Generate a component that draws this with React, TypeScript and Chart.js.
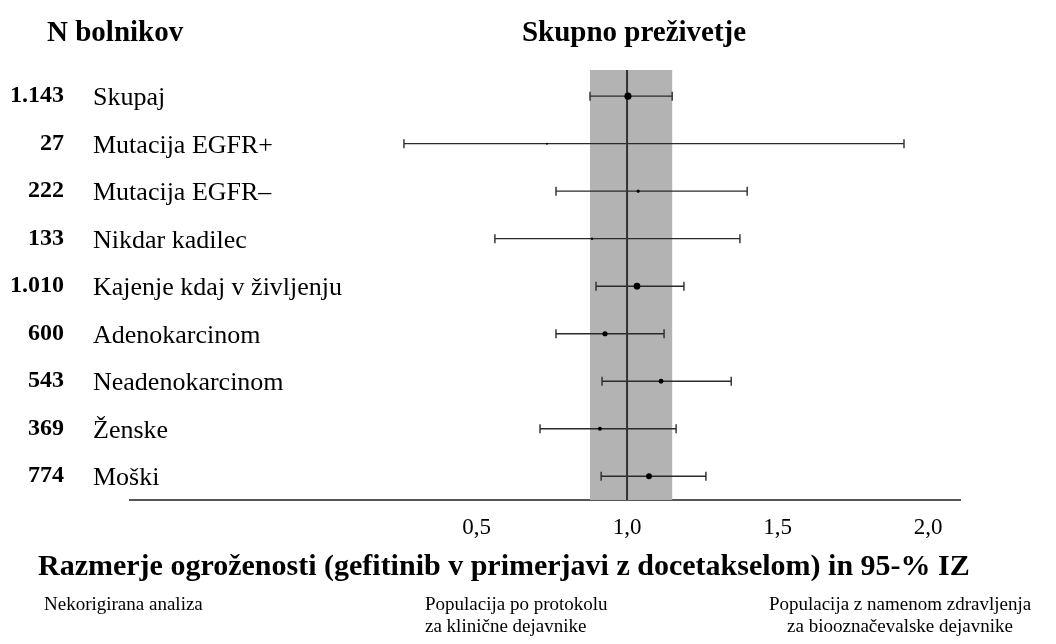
import React, { useEffect, useRef } from "react";
import { Chart, registerables } from "chart.js";

Chart.register(...registerables);

const categories = [
  "Skupaj",
  "Mutacija EGFR+",
  "Mutacija EGFR–",
  "Nikdar kadilec",
  "Kajenje kdaj v življenju",
  "Adenokarcinom",
  "Neadenokarcinom",
  "Ženske",
  "Moški",
];
const patientLabels = ["1.143", "27", "222", "133", "1.010", "600", "543", "369", "774"];
const patientCounts = [1143, 27, 222, 133, 1010, 600, 543, 369, 774];
const hazardRatio = [1.003, 0.734, 1.037, 0.884, 1.033, 0.927, 1.113, 0.91, 1.073];
const ciLower = [0.877, 0.259, 0.764, 0.561, 0.897, 0.764, 0.917, 0.711, 0.914];
const ciUpper = [1.15, 1.92, 1.399, 1.375, 1.189, 1.123, 1.346, 1.163, 1.262];
const tickValues = [0.5, 1.0, 1.5, 2.0];
const tickLabels = ["0,5", "1,0", "1,5", "2,0"];

const headerLeft = "N bolnikov";
const headerCenter = "Skupno preživetje";
const axisTitle = "Razmerje ogroženosti (gefitinib v primerjavi z docetakselom) in 95-% IZ";
const footNotes = [
  ["Nekorigirana analiza"],
  ["Populacija po protokolu", "za klinične dejavnike"],
  ["Populacija z namenom zdravljenja", "za biooznačevalske dejavnike"],
];

const SERIF = "'Liberation Serif', 'DejaVu Serif', serif";

const forestPlugin = {
  id: "forest",
  beforeDatasetsDraw(chart: any) {
    const { ctx, chartArea, scales } = chart;
    const x = scales.x;
    const y = scales.y;
    ctx.save();
    // overall CI band
    const bx0 = x.getPixelForValue(ciLower[0]);
    const bx1 = x.getPixelForValue(ciUpper[0]);
    ctx.fillStyle = "#b3b3b3";
    ctx.fillRect(bx0, chartArea.top, bx1 - bx0, chartArea.bottom - chartArea.top);
    // whiskers
    ctx.strokeStyle = "#2b2b2b";
    ctx.lineWidth = 1.4;
    for (let i = 0; i < categories.length; i++) {
      const py = y.getPixelForValue(i);
      const l = x.getPixelForValue(ciLower[i]);
      const r = x.getPixelForValue(ciUpper[i]);
      ctx.beginPath();
      ctx.moveTo(l, py);
      ctx.lineTo(r, py);
      ctx.moveTo(l, py - 4.5);
      ctx.lineTo(l, py + 4.5);
      ctx.moveTo(r, py - 4.5);
      ctx.lineTo(r, py + 4.5);
      ctx.stroke();
    }
    // reference line at 1
    const rx = x.getPixelForValue(1);
    ctx.strokeStyle = "#333333";
    ctx.lineWidth = 2;
    ctx.beginPath();
    ctx.moveTo(rx, chartArea.top);
    ctx.lineTo(rx, chartArea.bottom);
    ctx.stroke();
    ctx.restore();
  },
  afterDraw(chart: any) {
    const { ctx, scales } = chart;
    const y = scales.y;
    ctx.save();
    ctx.fillStyle = "#000";
    ctx.textBaseline = "alphabetic";
    ctx.font = `bold 29px ${SERIF}`;
    ctx.textAlign = "left";
    ctx.fillText(headerLeft, 47, 41);
    ctx.textAlign = "center";
    ctx.fillText(headerCenter, 634, 41);
    for (let i = 0; i < categories.length; i++) {
      const py = y.getPixelForValue(i);
      ctx.font = `bold 24px ${SERIF}`;
      ctx.textAlign = "right";
      ctx.fillText(patientLabels[i], 64, py + 6);
      ctx.font = `26px ${SERIF}`;
      ctx.textAlign = "left";
      ctx.fillText(categories[i], 93, py + 9);
    }
    ctx.font = `bold 30px ${SERIF}`;
    ctx.textAlign = "left";
    ctx.fillText(axisTitle, 38, 575);
    ctx.font = `19px ${SERIF}`;
    ctx.fillText(footNotes[0][0], 44, 610);
    ctx.fillText(footNotes[1][0], 425, 610);
    ctx.fillText(footNotes[1][1], 425, 632);
    ctx.textAlign = "center";
    ctx.fillText(footNotes[2][0], 900, 610);
    ctx.fillText(footNotes[2][1], 900, 632);
    ctx.restore();
  },
};

export default function App() {
  const ref = useRef<HTMLCanvasElement | null>(null);
  useEffect(() => {
    document.body.style.margin = "0";
    if (!ref.current) return;
    const points = hazardRatio.map((v, i) => ({ x: v, y: i }));
    const radii = patientCounts.map((n) => Math.max(1, Math.sqrt(n) * 0.105));
    const chart = new Chart(ref.current, {
      type: "scatter",
      data: {
        datasets: [
          {
            data: points,
            pointRadius: radii,
            pointBackgroundColor: "#000",
            pointBorderColor: "#000",
            pointBorderWidth: 0,
            showLine: false,
          },
        ],
      },
      options: {
        responsive: false,
        animation: false,
        layout: { padding: { left: 130, right: 96, top: 70, bottom: 0 } },
        plugins: { legend: { display: false }, tooltip: { enabled: false } },
        scales: {
          x: {
            type: "linear",
            min: -0.651,
            max: 2.106,
            afterBuildTicks: (s: any) => {
              s.ticks = tickValues.map((v) => ({ value: v }));
            },
            afterFit: (s: any) => {
              s.height = 144;
            },
            grid: { display: false, drawTicks: false },
            border: { display: true, color: "#555555", width: 2 },
            ticks: {
              padding: 14,
              color: "#000",
              font: { family: SERIF, size: 23 },
              maxRotation: 0,
              autoSkip: false,
              callback: (v: any) => {
                const idx = tickValues.indexOf(Number(v));
                return idx >= 0 ? tickLabels[idx] : "";
              },
            },
          },
          y: {
            type: "linear",
            display: false,
            min: -0.55,
            max: 8.5,
            reverse: true,
          },
        },
      },
      plugins: [forestPlugin],
    });
    return () => chart.destroy();
  }, []);
  return (
    <canvas
      ref={ref}
      width={1056}
      height={644}
      style={{ display: "block", width: 1056, height: 644 }}
    />
  );
}
